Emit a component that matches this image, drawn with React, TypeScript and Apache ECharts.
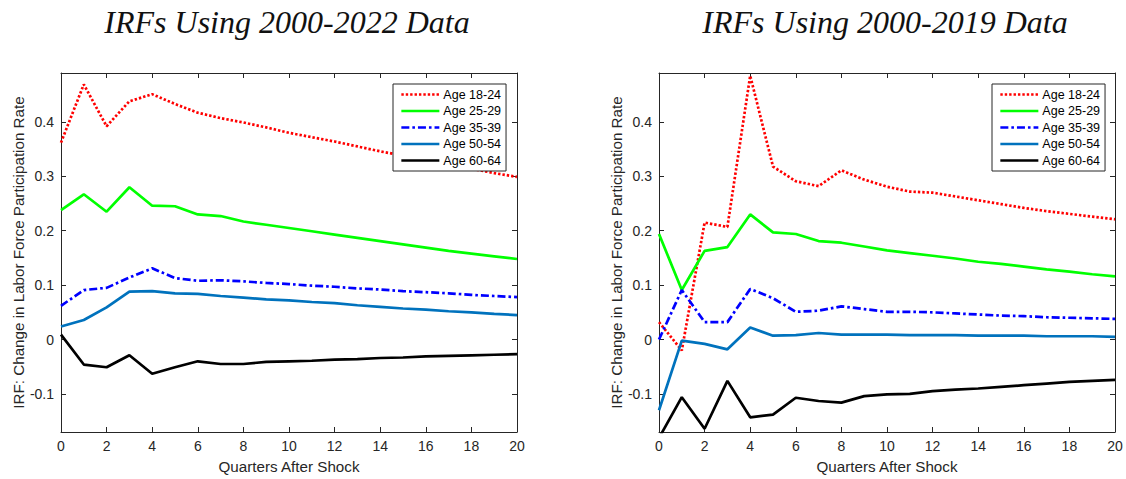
import React, { useEffect, useRef } from "react";
import * as echarts from "echarts";

// Quarters after the shock (x axis)
const QUARTERS = [0, 1, 2, 3, 4, 5, 6, 7, 8, 9, 10, 11, 12, 13, 14, 15, 16, 17, 18, 19, 20];

const AGE_GROUPS = ["Age 18-24", "Age 25-29", "Age 35-39", "Age 50-54", "Age 60-64"];

const PANEL_TITLES = ["IRFs Using 2000-2022 Data", "IRFs Using 2000-2019 Data"];
const X_AXIS_NAME = "Quarters After Shock";
const Y_AXIS_NAME = "IRF: Change in Labor Force Participation Rate";

// Impulse responses, 2000-2022 sample
const irf2022Age18to24 = [0.362, 0.469, 0.392, 0.438, 0.451, 0.433, 0.417, 0.407, 0.399, 0.390, 0.380, 0.372, 0.364, 0.355, 0.346, 0.338, 0.330, 0.322, 0.314, 0.306, 0.299];
const irf2022Age25to29 = [0.238, 0.267, 0.235, 0.280, 0.246, 0.245, 0.230, 0.227, 0.217, 0.211, 0.205, 0.199, 0.193, 0.187, 0.181, 0.175, 0.169, 0.163, 0.158, 0.153, 0.148];
const irf2022Age35to39 = [0.062, 0.091, 0.095, 0.114, 0.131, 0.113, 0.108, 0.109, 0.107, 0.104, 0.102, 0.099, 0.097, 0.094, 0.092, 0.089, 0.087, 0.085, 0.082, 0.080, 0.078];
const irf2022Age50to54 = [0.024, 0.036, 0.059, 0.088, 0.089, 0.085, 0.084, 0.080, 0.077, 0.074, 0.072, 0.069, 0.067, 0.063, 0.060, 0.057, 0.055, 0.052, 0.050, 0.047, 0.045];
const irf2022Age60to64 = [0.009, -0.046, -0.051, -0.029, -0.063, -0.051, -0.040, -0.045, -0.045, -0.041, -0.040, -0.039, -0.037, -0.036, -0.034, -0.033, -0.031, -0.030, -0.029, -0.028, -0.027];

// Impulse responses, 2000-2019 sample
const irf2019Age18to24 = [0.032, -0.020, 0.215, 0.207, 0.485, 0.318, 0.291, 0.282, 0.311, 0.294, 0.281, 0.272, 0.270, 0.263, 0.256, 0.249, 0.242, 0.236, 0.231, 0.226, 0.221];
const irf2019Age25to29 = [0.194, 0.091, 0.163, 0.170, 0.230, 0.197, 0.194, 0.181, 0.178, 0.171, 0.164, 0.159, 0.154, 0.149, 0.143, 0.139, 0.134, 0.129, 0.125, 0.120, 0.116];
const irf2019Age35to39 = [0.000, 0.091, 0.032, 0.032, 0.093, 0.076, 0.051, 0.053, 0.061, 0.056, 0.051, 0.051, 0.050, 0.048, 0.046, 0.044, 0.043, 0.041, 0.040, 0.039, 0.038];
const irf2019Age50to54 = [-0.130, -0.002, -0.008, -0.018, 0.022, 0.007, 0.008, 0.012, 0.009, 0.009, 0.009, 0.008, 0.008, 0.008, 0.007, 0.007, 0.007, 0.006, 0.006, 0.006, 0.005];
const irf2019Age60to64 = [-0.181, -0.106, -0.164, -0.076, -0.143, -0.138, -0.107, -0.113, -0.116, -0.104, -0.101, -0.100, -0.095, -0.092, -0.090, -0.087, -0.084, -0.081, -0.078, -0.076, -0.074];

const PANELS = [
  [irf2022Age18to24, irf2022Age25to29, irf2022Age35to39, irf2022Age50to54, irf2022Age60to64],
  [irf2019Age18to24, irf2019Age25to29, irf2019Age35to39, irf2019Age50to54, irf2019Age60to64],
];

// Line look per age group
const LINE_STYLES = [
  { color: "#FF0000", type: [2.4, 2.0] },
  { color: "#00FF00", type: "solid" },
  { color: "#0000FF", type: [8, 3, 2.6, 3] },
  { color: "#0072BD", type: "solid" },
  { color: "#000000", type: "solid" },
];

const LINE_WIDTH = 2.7;
const Y_MIN = -0.17;
const Y_MAX = 0.49;

const AXIS_COLOR = "#262626";
const SANS = "'Liberation Sans', Arial, sans-serif";

const GRIDS = [
  { left: 61, top: 73, width: 456, height: 360 },
  { left: 659, top: 73, width: 456, height: 360 },
];

export default function App() {
  const ref = useRef<HTMLDivElement>(null);

  useEffect(() => {
    if (!ref.current) return;
    const chart = echarts.init(ref.current, undefined, { renderer: "svg" });

    const axisLine = { show: true, onZero: false, lineStyle: { color: AXIS_COLOR, width: 1 } };
    const axisTick = { show: true, inside: true, length: 5, lineStyle: { color: AXIS_COLOR, width: 1 } };
    const labelStyle = { color: AXIS_COLOR, fontFamily: SANS, fontSize: 14 };

    const xAxes: any[] = [];
    const yAxes: any[] = [];
    GRIDS.forEach((_, g) => {
      xAxes.push({
        gridIndex: g,
        type: "value",
        min: 0,
        max: 20,
        interval: 2,
        position: "bottom",
        axisLine,
        axisTick,
        splitLine: { show: false },
        axisLabel: { ...labelStyle, margin: 7 },
        name: X_AXIS_NAME,
        nameLocation: "middle",
        nameGap: 27,
        nameTextStyle: { color: AXIS_COLOR, fontFamily: SANS, fontSize: 15.2 },
      });
      xAxes.push({
        gridIndex: g,
        type: "value",
        min: 0,
        max: 20,
        interval: 2,
        position: "top",
        axisLine,
        axisTick,
        splitLine: { show: false },
        axisLabel: { show: false },
      });
      yAxes.push({
        gridIndex: g,
        type: "value",
        min: Y_MIN,
        max: Y_MAX,
        minInterval: 0.1,
        maxInterval: 0.1,
        position: "left",
        axisLine,
        axisTick,
        splitLine: { show: false },
        axisLabel: { ...labelStyle, margin: 7, showMinLabel: false, showMaxLabel: false },
        name: Y_AXIS_NAME,
        nameLocation: "middle",
        nameGap: 33,
        nameTextStyle: { color: AXIS_COLOR, fontFamily: SANS, fontSize: 15.2 },
      });
      yAxes.push({
        gridIndex: g,
        type: "value",
        min: Y_MIN,
        max: Y_MAX,
        minInterval: 0.1,
        maxInterval: 0.1,
        position: "right",
        axisLine,
        axisTick,
        splitLine: { show: false },
        axisLabel: { show: false },
      });
    });

    const series: any[] = [];
    PANELS.forEach((panel, g) => {
      panel.forEach((values, i) => {
        series.push({
          type: "line",
          name: AGE_GROUPS[i],
          xAxisIndex: g * 2,
          yAxisIndex: g * 2,
          data: QUARTERS.map((q, k) => [q, values[k]]),
          symbol: "none",
          clip: true,
          lineStyle: { color: LINE_STYLES[i].color, type: LINE_STYLES[i].type, width: LINE_WIDTH },
          itemStyle: { color: LINE_STYLES[i].color },
        });
      });
    });

    const legendPositions = [
      { left: 393, top: 84 },
      { left: 992, top: 84 },
    ];

    const legends = legendPositions.map((p) => ({
      ...p,
      orient: "vertical",
      data: AGE_GROUPS,
      itemWidth: 38,
      itemHeight: 14,
      itemGap: 3.5,
      padding: [4, 5, 4, 7],
      backgroundColor: "#FFFFFF",
      borderColor: AXIS_COLOR,
      borderWidth: 1,
      borderRadius: 0,
      selectedMode: false,
      // legend keys show only the line sample, no marker
      itemStyle: { opacity: 0 },
      lineStyle: { width: LINE_WIDTH },
      textStyle: { color: "#000000", fontFamily: SANS, fontSize: 12.5, padding: [0, 0, 0, -1] },
    }));

    const titles = PANEL_TITLES.map((t, g) => ({
      type: "text",
      x: GRIDS[g].left + GRIDS[g].width / 2 - 2,
      y: 22,
      style: {
        text: t,
        fontFamily: "'Liberation Serif', 'Times New Roman', serif",
        fontStyle: "italic",
        fontSize: 32,
        fill: "#111111",
        align: "center",
        verticalAlign: "middle",
      },
    }));

    chart.setOption({
      animation: false,
      backgroundColor: "#FFFFFF",
      grid: GRIDS.map((g) => ({ ...g, containLabel: false })),
      xAxis: xAxes,
      yAxis: yAxes,
      legend: legends,
      series,
      graphic: titles,
    });

    return () => chart.dispose();
  }, []);

  return (
    <div
      ref={ref}
      style={{ position: "fixed", left: 0, top: 0, width: 1126, height: 479, background: "#FFFFFF" }}
    />
  );
}
